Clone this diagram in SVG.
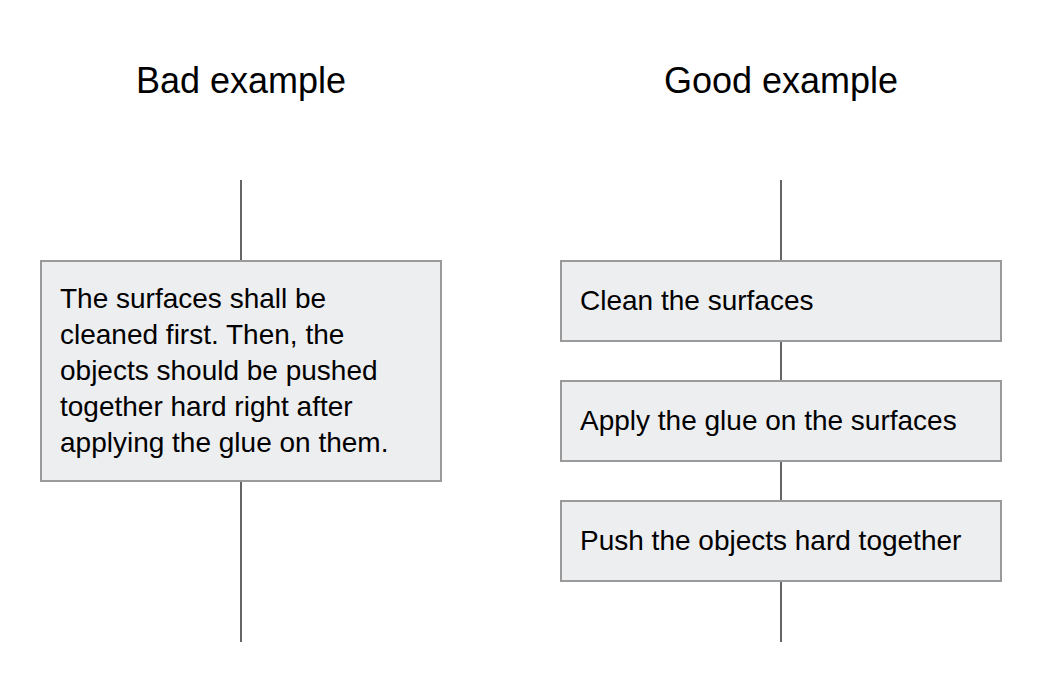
<svg xmlns="http://www.w3.org/2000/svg" width="1040" height="680" viewBox="0 0 1040 680">
<style>
.title{font-family:"Liberation Sans",Arial,sans-serif;font-size:36px;fill:#000;text-anchor:middle}
.t{font-family:"Liberation Sans",Arial,sans-serif;font-size:28px;fill:#000}
.box{fill:#edeef0;stroke:#9a9a9a;stroke-width:2}
.ln{stroke:#666;stroke-width:2;fill:none}
</style>
<rect width="1040" height="680" fill="#fff"/>
<text class="title" x="241" y="93">Bad example</text>
<text class="title" x="781" y="93">Good example</text>
<g id="connectors">
<line class="ln" x1="241" y1="180" x2="241" y2="261"/>
<line class="ln" x1="241" y1="481" x2="241" y2="642"/>
<line class="ln" x1="781" y1="180" x2="781" y2="261"/>
<line class="ln" x1="781" y1="341" x2="781" y2="381"/>
<line class="ln" x1="781" y1="461" x2="781" y2="501"/>
<line class="ln" x1="781" y1="581" x2="781" y2="642"/>
</g>
<g id="bad">
<rect class="box" x="41" y="261" width="400" height="220"/>
<text class="t" x="60" y="308">The surfaces shall be</text>
<text class="t" x="60" y="344">cleaned first. Then, the</text>
<text class="t" x="60" y="380">objects should be pushed</text>
<text class="t" x="60" y="416">together hard right after</text>
<text class="t" x="60" y="452">applying the glue on them.</text>
</g>
<g id="step1">
<rect class="box" x="561" y="261" width="440" height="80"/>
<text class="t" x="580" y="310">Clean the surfaces</text>
</g>
<g id="step2">
<rect class="box" x="561" y="381" width="440" height="80"/>
<text class="t" x="580" y="430">Apply the glue on the surfaces</text>
</g>
<g id="step3">
<rect class="box" x="561" y="501" width="440" height="80"/>
<text class="t" x="580" y="550">Push the objects hard together</text>
</g>
</svg>
